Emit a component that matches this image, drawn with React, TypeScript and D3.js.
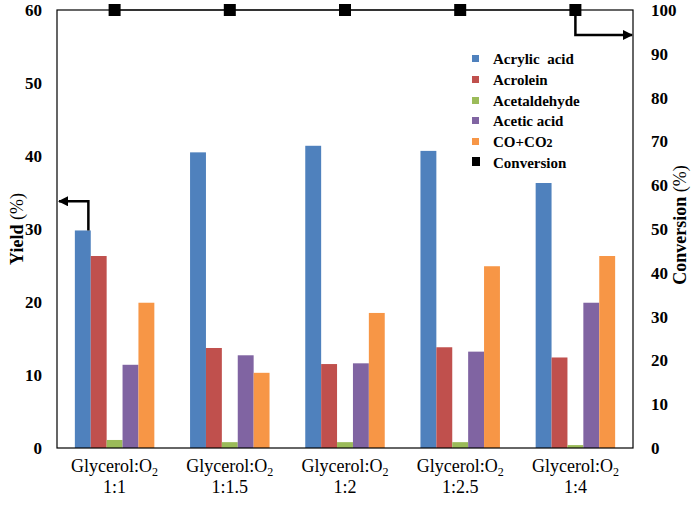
import React from "react";
import * as d3 from "d3";

const ratios = ["1:1", "1:1.5", "1:2", "1:2.5", "1:4"];
const seriesNames = ["Acrylic acid", "Acrolein", "Acetaldehyde", "Acetic acid", "CO+CO2"];
const seriesColors = ["#4F81BD", "#C0504D", "#9BBB59", "#8064A2", "#F79646"];
const acrylicAcid = [29.8, 40.5, 41.4, 40.7, 36.3];
const acrolein = [26.3, 13.7, 11.5, 13.8, 12.4];
const acetaldehyde = [1.1, 0.8, 0.8, 0.8, 0.4];
const aceticAcid = [11.4, 12.7, 11.6, 13.2, 19.9];
const coCo2 = [19.9, 10.3, 18.5, 24.9, 26.3];
const conversion = [100, 100, 100, 100, 100];
const yieldTicks = [0, 10, 20, 30, 40, 50, 60];
const convTicks = [0, 10, 20, 30, 40, 50, 60, 70, 80, 90, 100];

const series = [acrylicAcid, acrolein, acetaldehyde, aceticAcid, coCo2];

const W = 693, H = 510;
const L = 57, R = 633, T = 10, B = 448;
const FONT = "Liberation Serif, DejaVu Serif, serif";

export default function App() {
  const x0 = d3.scaleBand<string>().domain(ratios).range([L, R]).paddingInner(0.31).paddingOuter(0.155);
  const x1 = d3.scaleBand<number>().domain(d3.range(series.length)).range([0, x0.bandwidth()]);
  const y = d3.scaleLinear().domain([0, 60]).range([B, T]);
  const y2 = d3.scaleLinear().domain([0, 100]).range([B, T]);
  const cx = (r: string) => (x0(r) as number) + x0.bandwidth() / 2;

  const firstBlueX = (x0(ratios[0]) as number) + (x1(0) as number) + x1.bandwidth() * 0.85;
  const leftArrowY = y(33.8);
  const lastX = cx(ratios[4]);
  const rightArrowY = y2(94.3);

  const legendY = [59, 80, 101, 121, 142, 163];

  return (
    <div style={{ position: "absolute", left: 0, top: 0 }}>
      <svg width={W} height={H} style={{ display: "block", background: "#fff", fontFamily: FONT }}>
        <defs>
          <marker id="ah" viewBox="0 0 10 10" refX="9" refY="5" markerWidth="4" markerHeight="4" orient="auto">
            <path d="M0,0 L10,5 L0,10 Z" fill="#000" />
          </marker>
        </defs>
        {series.map((vals, si) =>
          ratios.map((r, gi) => (
            <rect
              key={`${si}-${gi}`}
              x={(x0(r) as number) + (x1(si) as number)}
              y={y(vals[gi])}
              width={x1.bandwidth()}
              height={B - y(vals[gi])}
              fill={seriesColors[si]}
            />
          ))
        )}
        <rect x={L} y={T} width={R - L} height={B - T} fill="none" stroke="#000" strokeWidth={1.2} />
        <path
          d={d3.line<number>().x((_, i) => cx(ratios[i])).y((d) => y2(d))(conversion) || ""}
          fill="none"
          stroke="#000"
          strokeWidth={1}
        />
        {conversion.map((c, i) => (
          <rect key={i} x={cx(ratios[i]) - 6} y={y2(c) - 6} width={12} height={12} fill="#000" />
        ))}
        <path
          d={`M${firstBlueX},${y(acrylicAcid[0])} L${firstBlueX},${leftArrowY} L${L + 2},${leftArrowY}`}
          fill="none"
          stroke="#000"
          strokeWidth={2.5}
          markerEnd="url(#ah)"
        />
        <path
          d={`M${lastX},${y2(conversion[4])} L${lastX},${rightArrowY} L${R - 1},${rightArrowY}`}
          fill="none"
          stroke="#000"
          strokeWidth={2.5}
          markerEnd="url(#ah)"
        />
        {yieldTicks.map((t) => (
          <text key={t} x={42} y={y(t)} dy="0.35em" textAnchor="end" fontSize={17} fontWeight="bold">
            {t}
          </text>
        ))}
        {convTicks.map((t) => (
          <text key={t} x={651} y={y2(t)} dy="0.35em" textAnchor="start" fontSize={17} fontWeight="bold">
            {t}
          </text>
        ))}
        <text transform={`translate(23,229) rotate(-90)`} textAnchor="middle" fontSize={18} fontWeight="bold">
          Yield <tspan fontWeight="normal">(%)</tspan>
        </text>
        <text transform={`translate(686,225) rotate(-90)`} textAnchor="middle" fontSize={18} fontWeight="bold">
          Conversion <tspan fontWeight="normal">(%)</tspan>
        </text>
        {ratios.map((r) => (
          <g key={r}>
            <text x={cx(r)} y={472} textAnchor="middle" fontSize={18}>
              Glycerol:O<tspan fontSize={12} dy={4}>2</tspan>
            </text>
            <text x={cx(r)} y={493} textAnchor="middle" fontSize={18}>
              {r}
            </text>
          </g>
        ))}
        {seriesNames.map((n, i) => (
          <g key={n}>
            <rect x={472} y={legendY[i] - 4} width={7} height={7} fill={seriesColors[i]} />
            <text x={493} y={legendY[i]} dy="0.35em" fontSize={15} fontWeight="bold">
              {n === "CO+CO2" ? (
                <>CO+CO<tspan fontSize={12}>2</tspan></>
              ) : n === "Acrylic acid" ? (
                <tspan style={{ whiteSpace: "pre" }}>Acrylic  acid</tspan>
              ) : (
                n
              )}
            </text>
          </g>
        ))}
        <rect x={472} y={legendY[5] - 6} width={8} height={9} fill="#000" />
        <text x={493} y={legendY[5]} dy="0.35em" fontSize={15} fontWeight="bold">
          Conversion
        </text>
      </svg>
    </div>
  );
}
